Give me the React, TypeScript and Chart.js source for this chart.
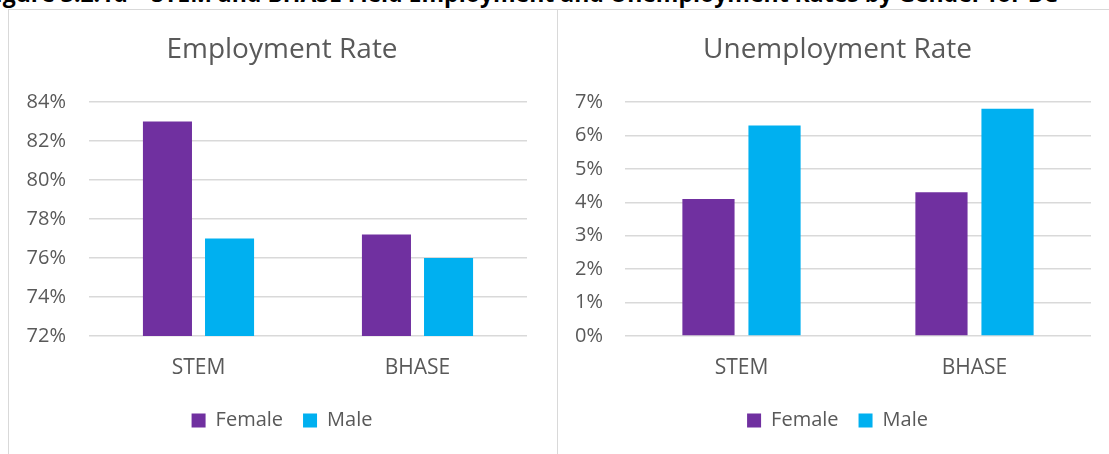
import React, { useEffect, useRef } from "react";
import { Chart, registerables } from "chart.js";

Chart.register(...registerables);

const categories = ["STEM", "BHASE"];
const seriesNames = ["Female", "Male"];
const employmentFemale = [83, 77.2];
const employmentMale = [77, 76];
const unemploymentFemale = [4.1, 4.3];
const unemploymentMale = [6.3, 6.8];
const employmentTicks = { min: 72, max: 84, step: 2 };
const unemploymentTicks = { min: 0, max: 7, step: 1 };
const colors = ["#7030A0", "#00B0F0"];
const pageTitle =
  "Figure 3.2.1d – STEM and BHASE Field Employment and Unemployment Rates by Gender for BC";

const FONT = "'Open Sans', sans-serif";
const TEXT = "#595959";
const GRID = "#d9d9d9";

function makeConfig(
  title: string,
  female: number[],
  male: number[],
  ticks: { min: number; max: number; step: number },
  padLeft: number,
  yWidth: number,
  yPad: number,
  rightWidth: number
): any {
  return {
    type: "bar",
    data: {
      labels: categories,
      datasets: [
        {
          label: seriesNames[0],
          data: female,
          backgroundColor: colors[0],
          categoryPercentage: 0.567,
          barPercentage: 0.79,
        },
        {
          label: seriesNames[1],
          data: male,
          backgroundColor: colors[1],
          categoryPercentage: 0.567,
          barPercentage: 0.79,
        },
      ],
    },
    options: {
      animation: false,
      responsive: false,
      maintainAspectRatio: false,
      layout: { padding: { top: 0, right: 0, bottom: 13.5, left: padLeft } },
      plugins: {
        title: {
          display: true,
          text: title,
          color: TEXT,
          font: { family: FONT, size: 28, weight: "normal" },
          padding: { top: 23, bottom: 35.4 },
        },
        legend: {
          position: "bottom",
          labels: {
            color: TEXT,
            font: { family: FONT, size: 20 },
            boxWidth: 14,
            boxHeight: 14,
            padding: 20,
          },
        },
        tooltip: { enabled: false },
      },
      scales: {
        x: {
          grid: { display: false, drawTicks: false },
          border: { display: false },
          ticks: { color: TEXT, font: { family: FONT, size: 21 }, padding: 19 },
          afterFit: (s: any) => {
            s.height = 54.5;
          },
        },
        y: {
          min: ticks.min,
          max: ticks.max,
          grid: { color: GRID, lineWidth: 1.5, drawTicks: false },
          border: { display: false },
          ticks: {
            stepSize: ticks.step,
            color: TEXT,
            font: { family: FONT, size: 20 },
            padding: yPad,
            callback: (v: any) => v + "%",
          },
          afterFit: (s: any) => {
            s.width = yWidth;
          },
        },
        yRightSpace: {
          type: "linear",
          position: "right",
          display: true,
          grid: { display: false, drawTicks: false },
          border: { display: false },
          ticks: { display: false },
          afterFit: (s: any) => {
            s.width = rightWidth;
          },
        },
      },
    },
  };
}

function ChartBox(props: { config: any; width: number; height: number }) {
  const ref = useRef<HTMLCanvasElement | null>(null);
  useEffect(() => {
    if (!ref.current) return;
    const c = new Chart(ref.current, props.config);
    return () => c.destroy();
  }, []);
  return <canvas ref={ref} width={props.width} height={props.height} style={{ display: "block" }} />;
}

export default function App() {
  const left = makeConfig("Employment Rate", employmentFemale, employmentMale, employmentTicks, 0, 80, 23, 28);
  const right = makeConfig("Unemployment Rate", unemploymentFemale, unemploymentMale, unemploymentTicks, 9, 59, 22, 18);
  return (
    <div style={{ position: "fixed", left: 0, top: 0, width: 1109, height: 454, overflow: "hidden", background: "#fff" }}>
      <div
        style={{
          position: "absolute",
          left: -17,
          top: -22,
          whiteSpace: "nowrap",
          fontFamily: FONT,
          fontWeight: "bold",
          fontSize: 23,
          lineHeight: "31px",
          color: "#000",
        }}
      >
        {pageTitle}
      </div>
      <div
        style={{
          position: "absolute",
          left: 8,
          top: 9,
          width: 548,
          height: 460,
          borderLeft: "1.5px solid #d9d9d9",
          borderTop: "1.5px solid #d9d9d9",
          borderRight: "1.5px solid #d9d9d9",
        }}
      />
      <div
        style={{
          position: "absolute",
          left: 556,
          top: 9,
          width: 600,
          height: 460,
          borderTop: "1.5px solid #d9d9d9",
        }}
      />
      <div style={{ position: "absolute", left: 9, top: 10 }}>
        <ChartBox config={left} width={546} height={444} />
      </div>
      <div style={{ position: "absolute", left: 557, top: 10 }}>
        <ChartBox config={right} width={552} height={444} />
      </div>
    </div>
  );
}
